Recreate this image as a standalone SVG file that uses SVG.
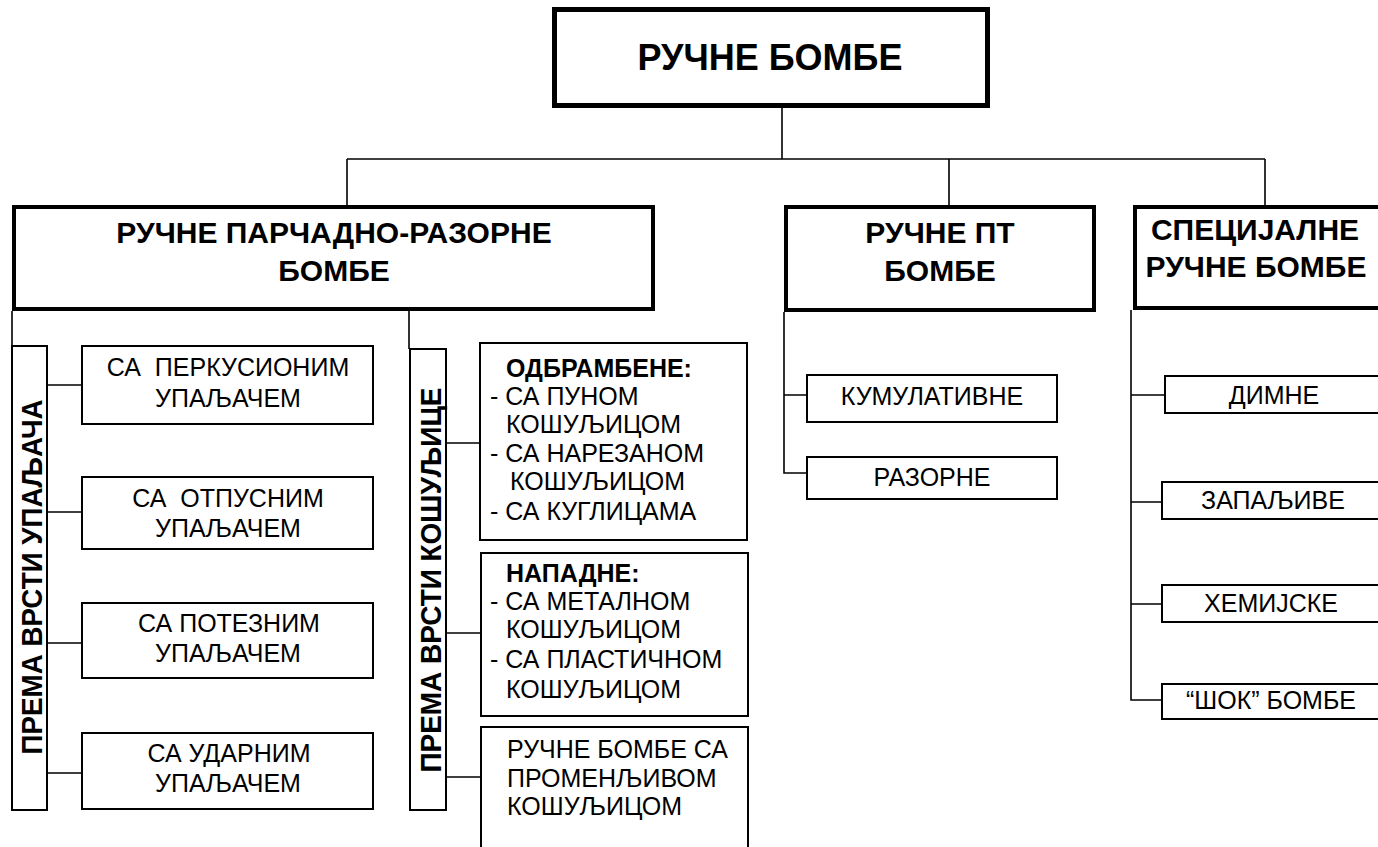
<svg xmlns="http://www.w3.org/2000/svg" width="1378" height="847" viewBox="0 0 1378 847">
<style>
.box{fill:#fff;stroke:#000;stroke-width:2}
.l2{stroke-width:4}
.top{stroke-width:5}
.conn{fill:none;stroke:#000;stroke-width:1.6}
text{font-family:"Liberation Sans",Arial,sans-serif;fill:#000}
.t1{font-size:36px;font-weight:bold;text-anchor:middle}
.t2{font-size:30px;font-weight:bold;text-anchor:middle}
.tv{font-size:30px;font-weight:bold;text-anchor:middle}
.c{font-size:25px;text-anchor:middle}
.s{font-size:25px}
.b{font-size:25px;font-weight:bold}
</style>
<rect width="1378" height="847" fill="#fff"/>
<g id="connectors" class="conn">
<path d="M782,108V159M347,159H1265M347,159V205M949,159V205M1265,159V205"/>
<path d="M12,311V346M409,311V349"/>
<path d="M47,385H82M47,512H82M47,643H82M47,773H82"/>
<path d="M446,443H480M446,633H481M446,777H481"/>
<path d="M784,312V473H807M784,395H807"/>
<path d="M1131,310V700H1162M1131,395H1165M1131,502H1162M1131,604H1162"/>
</g>
<g id="n-root"><rect class="box top" x="554.5" y="9.5" width="433" height="96"/><text class="t1" x="770" y="70">РУЧНЕ БОМБЕ</text></g>
<g id="n-frag"><rect class="box l2" x="14" y="207" width="639" height="102"/><text class="t2" x="334" y="243">РУЧНЕ ПАРЧАДНО-РАЗОРНЕ</text><text class="t2" x="334" y="281">БОМБЕ</text></g>
<g id="n-pt"><rect class="box l2" x="786" y="207" width="308" height="103"/><text class="t2" x="940" y="243">РУЧНЕ ПТ</text><text class="t2" x="940" y="281">БОМБЕ</text></g>
<g id="n-spec"><rect class="box l2" x="1135" y="207" width="260" height="101"/><text class="t2" x="1255" y="240">СПЕЦИЈАЛНЕ</text><text class="t2" x="1256" y="277">РУЧНЕ БОМБЕ</text></g>
<g id="n-fuze"><rect class="box" x="12" y="346" width="35" height="464"/><text class="tv" transform="translate(42,577) rotate(-90)" textLength="355" lengthAdjust="spacingAndGlyphs">ПРЕМА ВРСТИ УПАЉАЧА</text></g>
<g id="n-f1"><rect class="box" x="82" y="346" width="291" height="78"/><text class="c" x="228" y="376" xml:space="preserve">СА  ПЕРКУСИОНИМ</text><text class="c" x="228" y="407">УПАЉАЧЕМ</text></g>
<g id="n-f2"><rect class="box" x="82" y="477" width="291" height="72"/><text class="c" x="228" y="507" xml:space="preserve">СА  ОТПУСНИМ</text><text class="c" x="228" y="537">УПАЉАЧЕМ</text></g>
<g id="n-f3"><rect class="box" x="82" y="603" width="291" height="75"/><text class="c" x="229" y="632">СА ПОТЕЗНИМ</text><text class="c" x="228" y="662">УПАЉАЧЕМ</text></g>
<g id="n-f4"><rect class="box" x="82" y="733" width="291" height="76"/><text class="c" x="229" y="762">СА УДАРНИМ</text><text class="c" x="228" y="792">УПАЉАЧЕМ</text></g>
<g id="n-shell"><rect class="box" x="410" y="349" width="36" height="461"/><text class="tv" transform="translate(441,580) rotate(-90)" textLength="385" lengthAdjust="spacingAndGlyphs">ПРЕМА ВРСТИ КОШУЉИЦЕ</text></g>
<g id="n-s1"><rect class="box" x="480" y="343" width="267" height="197"/>
<text class="b" x="506" y="377">ОДБРАМБЕНЕ:</text>
<text class="s" x="490" y="405">- СА ПУНОМ</text>
<text class="s" x="506" y="433">КОШУЉИЦОМ</text>
<text class="s" x="490" y="462">- СА НАРЕЗАНОМ</text>
<text class="s" x="510" y="490">КОШУЉИЦОМ</text>
<text class="s" x="490" y="520">- СА КУГЛИЦАМА</text></g>
<g id="n-s2"><rect class="box" x="481" y="553" width="267" height="163"/>
<text class="b" x="506" y="582">НАПАДНЕ:</text>
<text class="s" x="490" y="610">- СА МЕТАЛНОМ</text>
<text class="s" x="506" y="638">КОШУЉИЦОМ</text>
<text class="s" x="490" y="668">- СА ПЛАСТИЧНОМ</text>
<text class="s" x="506" y="698">КОШУЉИЦОМ</text></g>
<g id="n-s3"><rect class="box" x="481" y="727" width="267" height="140"/>
<text class="s" x="507" y="758">РУЧНЕ БОМБЕ СА</text>
<text class="s" x="507" y="787">ПРОМЕНЉИВОМ</text>
<text class="s" x="507" y="815">КОШУЉИЦОМ</text></g>
<g id="n-kum"><rect class="box" x="807" y="375" width="250" height="47"/><text class="c" x="932" y="405">КУМУЛАТИВНЕ</text></g>
<g id="n-raz"><rect class="box" x="807" y="457" width="250" height="42"/><text class="c" x="932" y="486">РАЗОРНЕ</text></g>
<g id="n-dim"><rect class="box" x="1165" y="376" width="220" height="37"/><text class="c" x="1274" y="404">ДИМНЕ</text></g>
<g id="n-zap"><rect class="box" x="1162" y="482" width="222" height="37"/><text class="c" x="1273" y="509">ЗАПАЉИВЕ</text></g>
<g id="n-hem"><rect class="box" x="1162" y="585" width="222" height="37"/><text class="c" x="1271" y="612">ХЕМИЈСКЕ</text></g>
<g id="n-shok"><rect class="box" x="1162" y="684" width="222" height="35"/><text class="c" x="1271" y="709">“ШОК” БОМБЕ</text></g>
</svg>
